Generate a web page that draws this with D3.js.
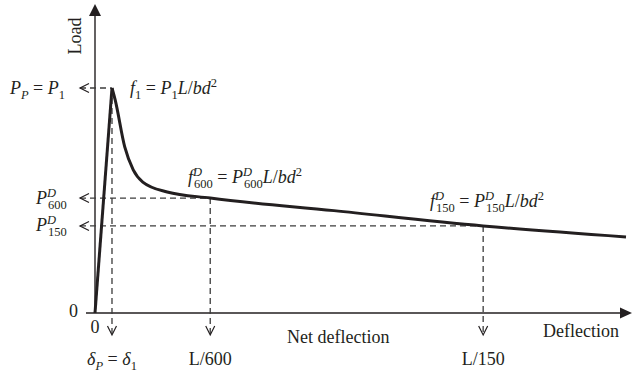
<!DOCTYPE html>
<html>
<head>
<meta charset="utf-8">
<script src="https://cdn.jsdelivr.net/npm/d3@7"></script>
<style>
  body { margin: 0; background: #fff; }
  text { font-family: "Liberation Serif", "DejaVu Serif", serif; font-size: 18px; fill: #231f20; }
</style>
</head>
<body>
<svg width="634" height="372"></svg>
<script>
// load-deflection curve (schematic units)
const deflection = [0, 3.2, 3.8, 5.6, 7.2, 9.0, 13.6, 21.7, 45, 73.1, 100];
const load = [0, 100, 94.7, 73.8, 63.6, 58.2, 53.8, 51.1, 45.5, 38.7, 33.8];
const peakIndex = 1;

// marked points: peak, L/600, L/150
const markX = [3.2, 21.7, 73.1];
const markY = [100, 51.1, 38.7];
const xMarkLabels = [
  [['δ', 'i'], ['P', 'isub'], [' = '], ['δ', 'i'], ['1', 'sub']],
  [['L/600']],
  [['L/150']]
];
const yMarkLabels = [
  [['P', 'i'], ['P', 'isub'], [' = '], ['P', 'i'], ['1', 'sub']],
  [['P', 'i'], ['D', 'isup'], ['600', 'subback']],
  [['P', 'i'], ['D', 'isup'], ['150', 'subback']]
];
const formulas = [
  [['f', 'i'], ['1', 'sub'], [' = '], ['P', 'i'], ['1', 'sub'], ['L', 'i'], ['/'], ['bd', 'i'], ['2', 'sup']],
  [['f', 'i'], ['D', 'isup'], ['600', 'subback'], [' = '], ['P', 'i'], ['D', 'isup'], ['600', 'subback'], ['L', 'i'], ['/'], ['bd', 'i'], ['2', 'sup']],
  [['f', 'i'], ['D', 'isup'], ['150', 'subback'], [' = '], ['P', 'i'], ['D', 'isup'], ['150', 'subback'], ['L', 'i'], ['/'], ['bd', 'i'], ['2', 'sup']]
];

const svg = d3.select('svg');
const ink = '#231f20';

let x = d3.scaleLinear().domain([0, 100]).range([95, 626]);
let y = d3.scaleLinear().domain([0, 100]).range([313, 88]);

// rich text: italic / sub / sup pieces as tspans
function rich(g, parts, px, py, anchor) {
  let t = g.append('text').attr('x', px).attr('y', py).attr('text-anchor', anchor || 'start');
  let shift = 0;
  parts.forEach(([s, st]) => {
    st = st || '';
    let ts = t.append('tspan').text(s);
    if (st.includes('i')) ts.style('font-style', 'italic');
    let target = 0;
    if (st.includes('sub')) target = 5;
    if (st.includes('sup')) target = -7;
    if (st.includes('sub') || st.includes('sup')) ts.style('font-size', '12.5px');
    if (target != shift) { ts.attr('dy', target - shift); shift = target; }
    if (st == 'subback') ts.attr('dx', -8);
  });
  return t;
}

// axes
svg.append('line')
  .attr('x1', x(0)).attr('x2', x(0)).attr('y1', y(0)).attr('y2', 14)
  .attr('stroke', ink).attr('stroke-width', 1.4);
svg.append('path')
  .attr('d', `M${x(0)},4L${x(0) - 6},16L${x(0) + 6},16Z`)
  .attr('fill', ink);
svg.append('line')
  .attr('x1', 86).attr('x2', 622).attr('y1', y(0)).attr('y2', y(0))
  .attr('stroke', ink).attr('stroke-width', 1.4);
svg.append('path')
  .attr('d', `M632,${y(0)}L620,${y(0) - 5.5}L620,${y(0) + 5.5}Z`)
  .attr('fill', ink);

// dashed guides with open arrows
markX.forEach((d, i) => {
  svg.append('line')
    .attr('x1', x(d)).attr('x2', x(d)).attr('y1', y(markY[i])).attr('y2', 334)
    .attr('stroke', '#3c3c3c').attr('stroke-width', 1.3).attr('stroke-dasharray', '6,4');
  svg.append('path')
    .attr('d', `M${x(d) - 4.5},326L${x(d)},335L${x(d) + 4.5},326`)
    .attr('fill', 'none').attr('stroke', ink).attr('stroke-width', 1.2);
  svg.append('line')
    .attr('x1', 80).attr('x2', x(d)).attr('y1', y(markY[i])).attr('y2', y(markY[i]))
    .attr('stroke', '#3c3c3c').attr('stroke-width', 1.3).attr('stroke-dasharray', '6,4');
  svg.append('path')
    .attr('d', `M89,${y(markY[i]) - 4.5}L80,${y(markY[i])}L89,${y(markY[i]) + 4.5}`)
    .attr('fill', 'none').attr('stroke', ink).attr('stroke-width', 1.2);
  rich(svg, xMarkLabels[i], x(d), 365, 'middle');
});

// curve: straight rise, smooth softening branch
let pts = deflection.map((d, i) => [x(d), y(load[i])]);
svg.append('path')
  .attr('d', d3.line()(pts.slice(0, peakIndex + 1)))
  .attr('fill', 'none').attr('stroke', ink).attr('stroke-width', 3);
svg.append('path')
  .attr('d', d3.line().curve(d3.curveMonotoneX)(pts.slice(peakIndex)))
  .attr('fill', 'none').attr('stroke', ink).attr('stroke-width', 3)
  .attr('stroke-linejoin', 'round');

// y labels
rich(svg, yMarkLabels[0], 65, y(markY[0]) + 6, 'end');
rich(svg, yMarkLabels[1], 36, y(markY[1]) + 6, 'start');
rich(svg, yMarkLabels[2], 36, y(markY[2]) + 5, 'start');

// formulas
rich(svg, formulas[0], 130, 94);
rich(svg, formulas[1], 188, 183);
rich(svg, formulas[2], 430, 207);

// axis texts
svg.append('text').attr('x', 78).attr('y', 317).attr('text-anchor', 'end').text('0');
svg.append('text').attr('x', 95).attr('y', 333).attr('text-anchor', 'middle').text('0');
svg.append('text').attr('x', 287).attr('y', 343).text('Net deflection');
svg.append('text').attr('x', 543).attr('y', 337).text('Deflection');
svg.append('text')
  .attr('transform', 'translate(81,36) rotate(-90)')
  .attr('text-anchor', 'middle').text('Load');
</script>
</body>
</html>
